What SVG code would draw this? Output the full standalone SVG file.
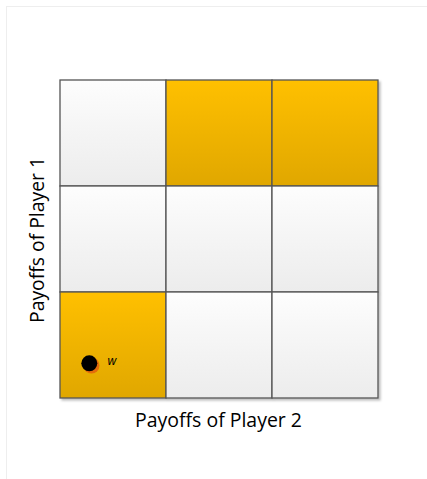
<svg xmlns="http://www.w3.org/2000/svg" width="427" height="479" viewBox="0 0 427 479">
<defs>
<linearGradient id="gw" x1="0" y1="0" x2="0" y2="1"><stop offset="0" stop-color="#fdfdfd"/><stop offset="1" stop-color="#ececec"/></linearGradient>
<linearGradient id="go" x1="0" y1="0" x2="0" y2="1"><stop offset="0" stop-color="#ffc000"/><stop offset="1" stop-color="#e0a700"/></linearGradient>
<filter id="sh" x="-10%" y="-10%" width="130%" height="130%"><feDropShadow dx="2" dy="2" stdDeviation="1" flood-color="#000" flood-opacity="0.25"/></filter>
</defs>
<style>
.w{fill:url(#gw);stroke:#555;stroke-width:1.3}
.o{fill:url(#go);stroke:#555;stroke-width:1.3}
.lbl{font-family:"Open Sans","Liberation Sans",sans-serif;fill:#000;font-size:19.5px}
</style>
<rect x="6.5" y="6.5" width="430" height="480" fill="#fff" stroke="#eeeeee" stroke-width="1"/>
<g id="grid" filter="url(#sh)">
<g id="c11"><rect class="w" x="60" y="80" width="106" height="106"/></g>
<g id="c12"><rect class="o" x="166" y="80" width="106" height="106"/></g>
<g id="c13"><rect class="o" x="272" y="80" width="106" height="106"/></g>
<g id="c21"><rect class="w" x="60" y="186" width="106" height="106"/></g>
<g id="c22"><rect class="w" x="166" y="186" width="106" height="106"/></g>
<g id="c23"><rect class="w" x="272" y="186" width="106" height="106"/></g>
<g id="c31"><rect class="o" x="60" y="292" width="106" height="106"/></g>
<g id="c32"><rect class="w" x="166" y="292" width="106" height="106"/></g>
<g id="c33"><rect class="w" x="272" y="292" width="106" height="106"/></g>
</g>
<g id="point">
<circle cx="91.5" cy="365.5" r="8" fill="#e46c0a"/>
<circle cx="89.3" cy="363.3" r="8" fill="#000"/>
<text x="107.5" y="364.5" font-family="Liberation Sans,sans-serif" font-size="12" font-style="italic">w</text>
</g>
<text class="lbl" x="218.5" y="426.5" text-anchor="middle" textLength="167" lengthAdjust="spacingAndGlyphs">Payoffs of Player 2</text>
<text class="lbl" transform="translate(43.5,240) rotate(-90)" text-anchor="middle" textLength="166" lengthAdjust="spacingAndGlyphs">Payoffs of Player 1</text>
</svg>
